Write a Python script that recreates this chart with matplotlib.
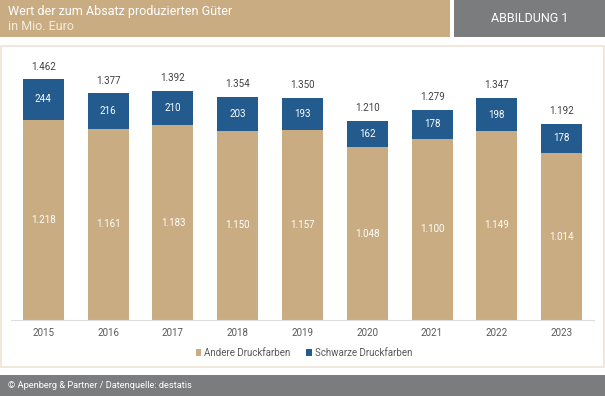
import matplotlib
matplotlib.use("Agg")
import matplotlib.pyplot as plt
from matplotlib.patches import Rectangle, Patch

plt.rcParams['font.family'] = ['Roboto', 'DejaVu Sans']

years = ["2015", "2016", "2017", "2018", "2019", "2020", "2021", "2022", "2023"]
andere = [1218, 1161, 1183, 1150, 1157, 1048, 1100, 1149, 1014]
schwarze = [244, 216, 210, 203, 193, 162, 178, 198, 178]
totals = [1462, 1377, 1392, 1354, 1350, 1210, 1279, 1347, 1192]

GOLD = "#CAAC82"
BLUE = "#245B8E"
GRAY = "#7B7C7E"
TXT = "#595959"

W, H = 605, 396
fig = plt.figure(figsize=(W / 100, H / 100), dpi=100)
fig.patch.set_facecolor("white")


def px_rect(x0, y0, x1, y1, **kw):
    r = Rectangle((x0 / W, 1 - y1 / H), (x1 - x0) / W, (y1 - y0) / H,
                  transform=fig.transFigure, zorder=-5, **kw)
    fig.add_artist(r)


def px_text(x, y, s, **kw):
    fig.text(x / W, 1 - y / H, s, **kw)


# header boxes
px_rect(0, 0, 450, 37, facecolor=GOLD, edgecolor="none")
px_rect(454, 0, 605, 37, facecolor=GRAY, edgecolor="none")
px_text(8, 12, "Wert der zum Absatz produzierten Güter", color="white",
        fontsize=9, va="center", ha="left")
px_text(8, 26, "in Mio. Euro", color="#F4ECDD", fontsize=9, va="center", ha="left")
px_text(530, 19, "ABBILDUNG 1", color="white", fontsize=9, va="center", ha="center")

# chart panel
px_rect(1, 46, 603.5, 367, facecolor="white", edgecolor="#EFE4D4", linewidth=1.2)

# footer
px_rect(0, 375, 605, 396, facecolor=GRAY, edgecolor="none")
px_text(8, 385.5, "© Apenberg & Partner / Datenquelle: destatis", color="white",
        fontsize=6.7, va="center", ha="left")

# axes
scale = 0.1646  # px per unit
ymax = 1600
top_px = 320 - ymax * scale
ax = fig.add_axes([11 / W, (H - 320) / H, 583 / W, (320 - top_px) / H])
ax.set_zorder(5)
ax.set_facecolor("none")
x = list(range(len(years)))
bw = 0.633
ax.bar(x, andere, width=bw, color=GOLD, label="Andere Druckfarben", zorder=2)
ax.bar(x, schwarze, width=bw, bottom=andere, color=BLUE,
       label="Schwarze Druckfarben", zorder=2)


def fmt(v):
    return f"{v:,}".replace(",", ".")


for i in x:
    ax.text(i, andere[i] / 2, fmt(andere[i]), ha="center", va="center",
            color="white", fontsize=7)
    ax.text(i, andere[i] + schwarze[i] / 2, fmt(schwarze[i]), ha="center",
            va="center", color="white", fontsize=7)
    ax.text(i, totals[i] + 78, fmt(totals[i]), ha="center", va="center",
            color="#404040", fontsize=7)

ax.set_xlim(-0.5, len(years) - 0.5)
ax.set_ylim(0, ymax)
ax.set_xticks(x)
ax.set_xticklabels(years, color=TXT, fontsize=7)
ax.tick_params(axis="x", length=0, pad=6)
ax.set_yticks([])
for s in ["top", "right", "left"]:
    ax.spines[s].set_visible(False)
ax.spines["bottom"].set_color("#DDDDDD")
ax.spines["bottom"].set_linewidth(0.8)

handles = [Patch(facecolor=GOLD, label="Andere Druckfarben"),
           Patch(facecolor=BLUE, label="Schwarze Druckfarben")]
leg = fig.legend(handles=handles, loc="center", bbox_to_anchor=(304 / W, 1 - 353 / H),
                 ncol=2, frameon=False, fontsize=7, labelcolor=TXT,
                 handlelength=0.6, handleheight=0.6, handletextpad=0.3,
                 columnspacing=1.6)
leg.set_zorder(6)

fig.savefig("out.png", dpi=100)
